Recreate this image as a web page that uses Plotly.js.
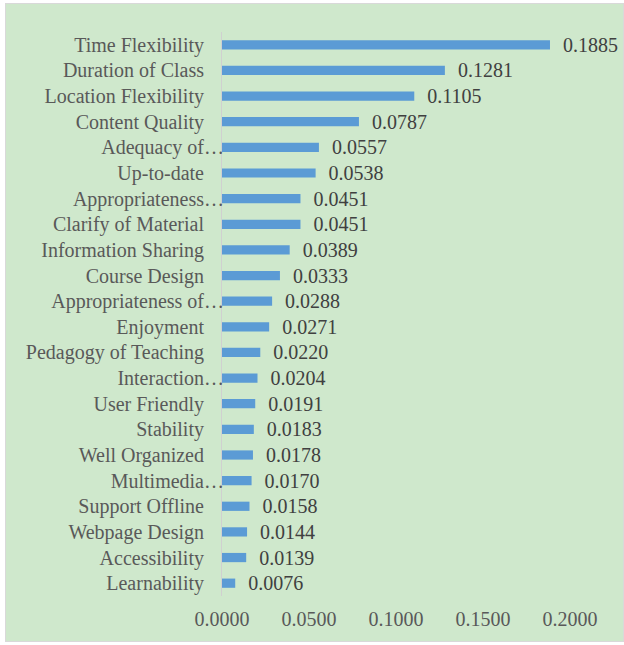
<!DOCTYPE html>
<html><head><meta charset="utf-8">
<script src="https://cdn.plot.ly/plotly-3.0.1.min.js"></script>
<style>
html,body{margin:0;padding:0;background:#ffffff;}
#wrap{position:absolute;left:5px;top:3px;width:617px;height:637px;border:1px solid #d9d9d9;}
#chart{width:617px;height:637px;}
</style></head>
<body>
<div id="wrap"><div id="chart"></div></div>
<script>
const categories = ["Time Flexibility","Duration of Class","Location Flexibility","Content Quality","Adequacy of…","Up-to-date","Appropriateness…","Clarify of Material","Information Sharing","Course Design","Appropriateness of…","Enjoyment","Pedagogy of Teaching","Interaction…","User Friendly","Stability","Well Organized","Multimedia…","Support Offline","Webpage Design","Accessibility","Learnability"];
const weights = [0.1885,0.1281,0.1105,0.0787,0.0557,0.0538,0.0451,0.0451,0.0389,0.0333,0.0288,0.0271,0.0220,0.0204,0.0191,0.0183,0.0178,0.0170,0.0158,0.0144,0.0139,0.0076];
const xTicks = [0,0.05,0.1,0.15,0.2];
const xTickText = ["0.0000","0.0500","0.1000","0.1500","0.2000"];

// truncated labels overflow by their ellipsis; others get an em-space pad
const yTickText = categories.map(c => c.endsWith('…') ? c : c + '\u2003');

const font = "Liberation Serif, Times New Roman, serif";
Plotly.newPlot('chart', [{
  type:'bar', orientation:'h',
  y: categories, x: weights,
  marker:{color:'#5B9BD5'},
  text: weights.map(v => '\u2002' + v.toFixed(4)),
  textposition:'outside', cliponaxis:false, constraintext:'none',
  textfont:{family:font,size:20,color:'#404040'},
  hoverinfo:'none'
}], {
  width:617, height:637,
  paper_bgcolor:'#CFE8CC', plot_bgcolor:'rgba(0,0,0,0)',
  margin:{l:216,r:53,t:28,b:45},
  bargap:0.64,
  showlegend:false,
  xaxis:{range:[0,0.2], tickvals:xTicks, ticktext:xTickText, showgrid:false, zeroline:false, showline:false,
         ticks:'', ticklabelstandoff:9, tickfont:{family:font,size:20,color:'#595959'}},
  yaxis:{autorange:'reversed', tickvals:categories, ticktext:yTickText, showgrid:false, zeroline:false, showline:true, linecolor:'#D0D0D0', linewidth:1,
         ticks:'', ticklabelstandoff:-7, tickfont:{family:font,size:20,color:'#595959'}}
}, {displayModeBar:false, staticPlot:true});
</script>
</body></html>
